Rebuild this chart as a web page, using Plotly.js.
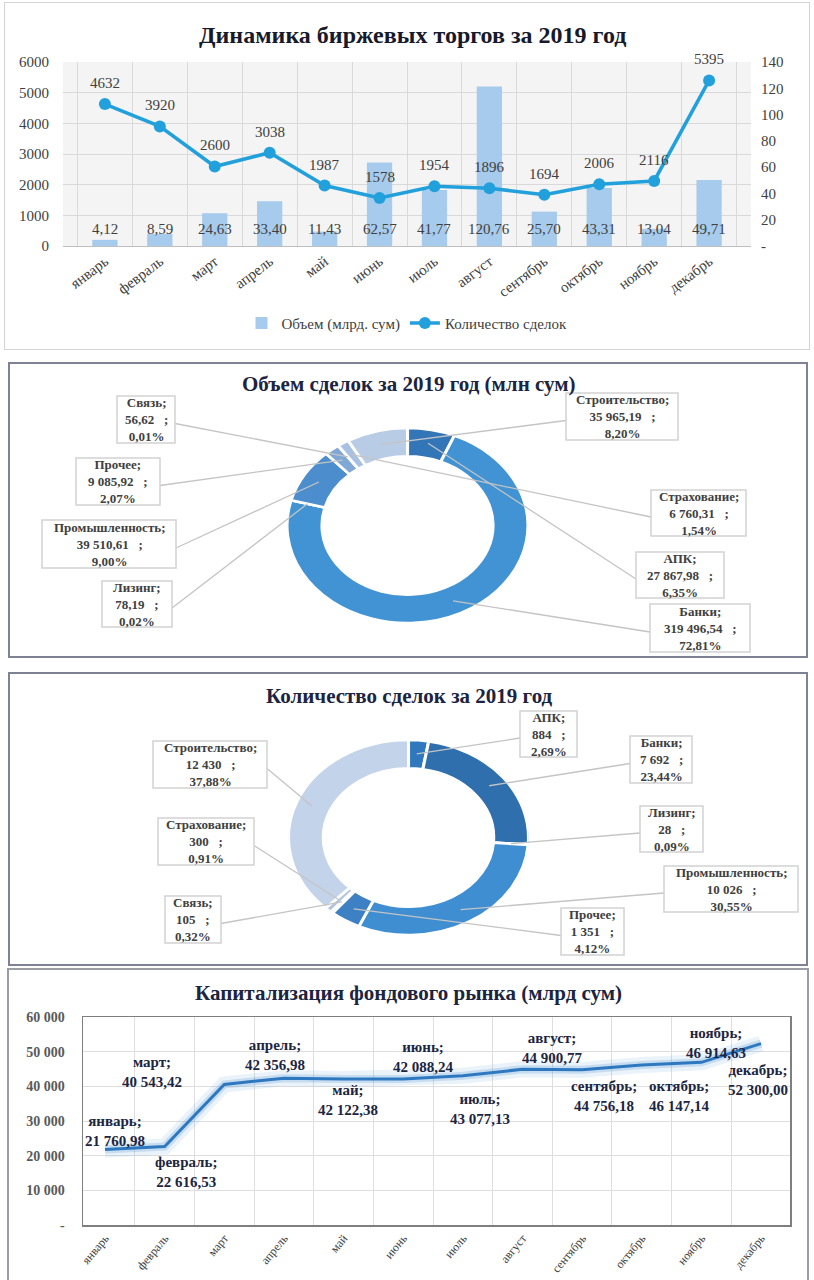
<!DOCTYPE html>
<html><head><meta charset="utf-8">
<script src="https://cdn.plot.ly/plotly-3.0.1.min.js"></script>
<style>
body{margin:0;background:#fff;width:814px;height:1280px;position:relative;overflow:hidden;}
.box{position:absolute;box-sizing:border-box;}
.plt{position:absolute;}
</style></head><body>
<div class="box" style="left:4px;top:2px;width:806px;height:348px;border:1px solid #d4d4d4;"></div>
<div id="c1" class="plt" style="left:0;top:0;width:814px;height:352px;"></div>

<div class="box" style="left:8px;top:362px;width:800px;height:296px;border:2px solid #7d8295;"></div>
<div id="p2" class="plt"></div>
<div id="o2" class="plt" style="left:0;top:352px;width:814px;height:310px;"></div>

<div class="box" style="left:8px;top:672px;width:800px;height:294px;border:2px solid #7d8295;"></div>
<div id="p3" class="plt"></div>
<div id="o3" class="plt" style="left:0;top:662px;width:814px;height:305px;"></div>

<div class="box" style="left:7px;top:968px;width:802px;height:330px;border:2px solid #9a9ca6;"></div>
<div id="c4" class="plt" style="left:0;top:967px;width:814px;height:313px;"></div>

<script>
// ---------- DATA ----------
const months = ['январь','февраль','март','апрель','май','июнь','июль','август','сентябрь','октябрь','ноябрь','декабрь'];
// chart 1
const volumeBars = [200, 390, 1070, 1460, 470, 2720, 1830, 5200, 1120, 1890, 560, 2150];
const volumeLabels = ['4,12','8,59','24,63','33,40','11,43','62,57','41,77','120,76','25,70','43,31','13,04','49,71'];
const dealsPoints = [108, 91, 60.5, 71, 46, 36.5, 45.5, 44, 39, 47, 49.5, 126];
const dealsLabels = ['4632','3920','2600','3038','1987','1578','1954','1896','1694','2006','2116','5395'];
// chart 2 & 3
const sectors = ['АПК','Банки','Лизинг','Промышленность','Прочее','Связь','Страхование','Строительство'];
const sectorVolume = [27867.98, 319496.54, 78.19, 39510.61, 9085.92, 56.62, 6760.31, 35965.19];
const sectorDeals = [884, 7692, 28, 10026, 1351, 105, 300, 12430];
// chart 4
const capitalization = [21760.98, 22616.53, 40543.42, 42356.98, 42122.38, 42088.24, 43077.13, 44900.77, 44756.18, 46147.14, 46914.63, 52300.00];

// ---------- STYLE ----------
const SERIF = 'Liberation Serif';
const cfg = {staticPlot:true, displayModeBar:false};
const TITLE_COLOR = '#1b2440';

function fmt(v, d){
  const s = v.toFixed(d); let parts = s.split('.');
  const i = parts[0].replace(/\B(?=(\d{3})+(?!\d))/g, ' ');
  return parts[1] ? i + ',' + parts[1] : i;
}

// ---------- CHART 1 ----------
(function(){
  const ann = [];
  months.forEach((m,i)=>{
    ann.push({x:m, y:560, xref:'x', yref:'y', text:volumeLabels[i], showarrow:false,
      font:{family:SERIF, size:15, color:'#404040'}});
    ann.push({x:m, y:dealsPoints[i], xref:'x', yref:'y2', yshift:21, text:dealsLabels[i], showarrow:false,
      font:{family:SERIF, size:15, color:'#404040'}});
  });
  Plotly.newPlot('c1', [
    {type:'bar', x:months, y:volumeBars, name:'Объем (млрд. сум)', width:0.46,
      marker:{color:'#a6cbec'}},
    {type:'scatter', mode:'lines+markers', x:months, y:dealsPoints, yaxis:'y2', name:'Количество сделок',
      line:{color:'#22a0dc', width:3.5}, marker:{color:'#22a0dc', size:12}}
  ], {
    width:814, height:352, margin:{l:63, r:63, t:62, b:103},
    font:{family:SERIF},
    paper_bgcolor:'rgba(0,0,0,0)', plot_bgcolor:'#f4f4f4',
    title:{text:'<b>Динамика биржевых торгов за 2019 год</b>', font:{family:SERIF, size:24, color:'#161a2a'},
      x:0.507, xanchor:'center', y:1-35/352, yanchor:'middle'},
    barmode:'overlay',
    xaxis:{type:'category', tickson:'boundaries', showgrid:true, gridcolor:'#d9d9d9', tickangle:-37,
      tickfont:{family:SERIF, size:15, color:'#404040'}, showline:true, linecolor:'#bfbfbf', ticks:''},
    yaxis:{range:[0,6000], dtick:1000, gridcolor:'#d9d9d9', zeroline:false, ticks:'outside', ticklen:10,
      tickcolor:'rgba(0,0,0,0)', tickfont:{family:SERIF, size:15, color:'#404040'}},
    yaxis2:{overlaying:'y', side:'right', range:[0,140], tickvals:[0,20,40,60,80,100,120,140],
      ticktext:['-','20','40','60','80','100','120','140'], showgrid:false, zeroline:false,
      ticks:'outside', ticklen:6, tickcolor:'rgba(0,0,0,0)', tickfont:{family:SERIF, size:15, color:'#404040'}},
    showlegend:true,
    legend:{orientation:'h', x:0.5, xanchor:'center', y:-0.42, yanchor:'middle',
      font:{family:SERIF, size:15, color:'#404040'}},
    annotations:ann
  }, cfg);
})();

// ---------- DONUTS ----------
function donut(pieId, ovId, values, colors, geo, ovTop, ovH, title, titleY, boxes, dec){
  const size = geo.ry*2;
  const pd = document.getElementById(pieId);
  pd.style.left = (geo.cx - geo.ry) + 'px';
  pd.style.top = (geo.cy - geo.ry) + 'px';
  pd.style.width = size + 'px'; pd.style.height = size + 'px';
  pd.style.transform = 'scaleX(' + (geo.rx/geo.ry) + ')';
  pd.style.transformOrigin = '50% 50%';
  Plotly.newPlot(pieId, [{type:'pie', values:values, labels:sectors, sort:false, direction:'clockwise',
    rotation:0, hole:0.71, textinfo:'none', marker:{colors:colors, line:{color:'#ffffff', width:2.5}}}],
    {width:size, height:size, margin:{l:0,r:0,t:0,b:0}, showlegend:false, paper_bgcolor:'rgba(0,0,0,0)'}, cfg);

  const total = values.reduce((a,b)=>a+b, 0);
  let cum = 0; const shapes = [], ann = [];
  sectors.forEach((lab,i)=>{
    const v = values[i];
    const mid = (cum + v/2)/total*2*Math.PI; cum += v;
    const ax = geo.cx + geo.rx*0.86*Math.sin(mid), ay = geo.cy - geo.ry*0.86*Math.cos(mid);
    const b = boxes[lab];
    const bx = (b[0]+b[1])/2 < geo.cx ? b[1] : b[0];
    const by = (b[2]+b[3])/2 + 4;
    shapes.push({type:'line', xref:'x', yref:'y', x0:bx, y0:by, x1:ax, y1:ay, line:{color:'#c4c4c4', width:1.3}});
    shapes.push({type:'rect', xref:'x', yref:'y', x0:b[0], x1:b[1], y0:b[2], y1:b[3],
      line:{color:'#d2d2d2', width:1.5}, fillcolor:'#ffffff'});
    const pct = (v/total*100).toFixed(2).replace('.', ',') + '%';
    ann.push({x:(b[0]+b[1])/2, y:(b[2]+b[3])/2, xref:'x', yref:'y', showarrow:false,
      text:'<b>'+lab+';</b><br><b>'+fmt(v,dec)+' \u00a0\u00a0;</b><br><b>'+pct+'</b>',
      font:{family:SERIF, size:13, color:'#404040'}, align:'center'});
  });
  ann.push({x:409, y:titleY, xref:'x', yref:'y', showarrow:false, text:'<b>'+title+'</b>',
    font:{family:SERIF, size:21, color:TITLE_COLOR}});
  Plotly.newPlot(ovId, [], {
    width:814, height:ovH, margin:{l:0,r:0,t:0,b:0}, font:{family:SERIF},
    paper_bgcolor:'rgba(0,0,0,0)', plot_bgcolor:'rgba(0,0,0,0)',
    xaxis:{range:[0,814], visible:false}, yaxis:{range:[ovTop+ovH, ovTop], visible:false},
    shapes:shapes, annotations:ann, showlegend:false
  }, cfg);
}

donut('p2','o2', sectorVolume,
  ['#3276b8','#4193d4','#4a8fd0','#4b8dcd','#7fa8d6','#9ab8dd','#a9c1e1','#b9cce6'],
  {cx:407.5, cy:525.5, rx:120.5, ry:97.5}, 352, 310, 'Объем сделок за 2019 год (млн сум)', 384,
  {'АПК':[636,724,552,598], 'Банки':[650,750,604,652], 'Лизинг':[102,172,581,627],
   'Промышленность':[42,176,520,568], 'Прочее':[76,160,458,505], 'Связь':[117,175,396,443],
   'Страхование':[651,746,490,536], 'Строительство':[566,678,393,440]}, 2);

donut('p3','o3', sectorDeals,
  ['#2f78be','#2f6fae','#3f8bd0','#3f8ed2','#3d80c4','#9bb6dc','#b0c4e2','#c3d3ea'],
  {cx:408, cy:837.5, rx:120, ry:97.5}, 662, 305, 'Количество сделок за 2019 год', 696,
  {'АПК':[520,577,711,757], 'Банки':[630,692,736,783], 'Лизинг':[640,703,806,852],
   'Промышленность':[664,798,866,912], 'Прочее':[561,624,908,955], 'Связь':[165,221,896,943],
   'Страхование':[158,254,818,865], 'Строительство':[153,267,741,788]}, 0);

// ---------- CHART 4 ----------
(function(){
  const labelDX = [10, 21, -72, -9, 4, 20, 17, 30, 22, 38, 15, -3];
  const labelDY = [-19, 25, -12, -23, 21, -22, 33, -21, 26, 31, -19, 36];
  const ann = months.map((m,i)=>({x:m, y:capitalization[i], xref:'x', yref:'y', showarrow:false,
    xshift:labelDX[i], yshift:-labelDY[i],
    text:'<b>'+m+';</b><br><b>'+fmt(capitalization[i],2)+'</b>',
    font:{family:SERIF, size:15, color:'#1c2541'}}));
  ann.push({xref:'paper', yref:'paper', x:0.46, y:1+(50-26)/208, yanchor:'middle', showarrow:false,
    text:'<b>Капитализация фондового рынка (млрд сум)</b>', font:{family:SERIF, size:21, color:TITLE_COLOR}});
  Plotly.newPlot('c4', [
    {type:'scatter', mode:'lines', x:months, y:capitalization, line:{color:'rgba(91,155,213,0.13)', width:16}, hoverinfo:'skip'},
    {type:'scatter', mode:'lines', x:months, y:capitalization, line:{color:'rgba(91,155,213,0.25)', width:8}, hoverinfo:'skip'},
    {type:'scatter', mode:'lines', x:months, y:capitalization, line:{color:'#2e78c0', width:3}}
  ], {
    width:814, height:313, margin:{l:83, r:24, t:50, b:55}, font:{family:SERIF},
    paper_bgcolor:'rgba(0,0,0,0)', plot_bgcolor:'#ffffff', showlegend:false,
    xaxis:{type:'category', tickson:'boundaries', showgrid:true, gridcolor:'#dedede', tickangle:-50,
      tickfont:{family:SERIF, size:12, color:'#404040'}, showline:true, mirror:true, linecolor:'#7f7f7f', linewidth:1.5,
      ticks:'', automargin:false},
    yaxis:{range:[0,60000], tickvals:[0,10000,20000,30000,40000,50000,60000],
      ticktext:['-','10 000','20 000','30 000','40 000','50 000','60 000'], gridcolor:'#dedede', zeroline:false,
      showline:true, mirror:true, linecolor:'#7f7f7f', linewidth:1.5, ticks:'outside', ticklen:14,
      tickcolor:'rgba(0,0,0,0)', tickfont:{family:SERIF, size:14, color:'#595959', weight:'bold'}, automargin:false},
    annotations:ann
  }, cfg);
})();
</script>
</body></html>
